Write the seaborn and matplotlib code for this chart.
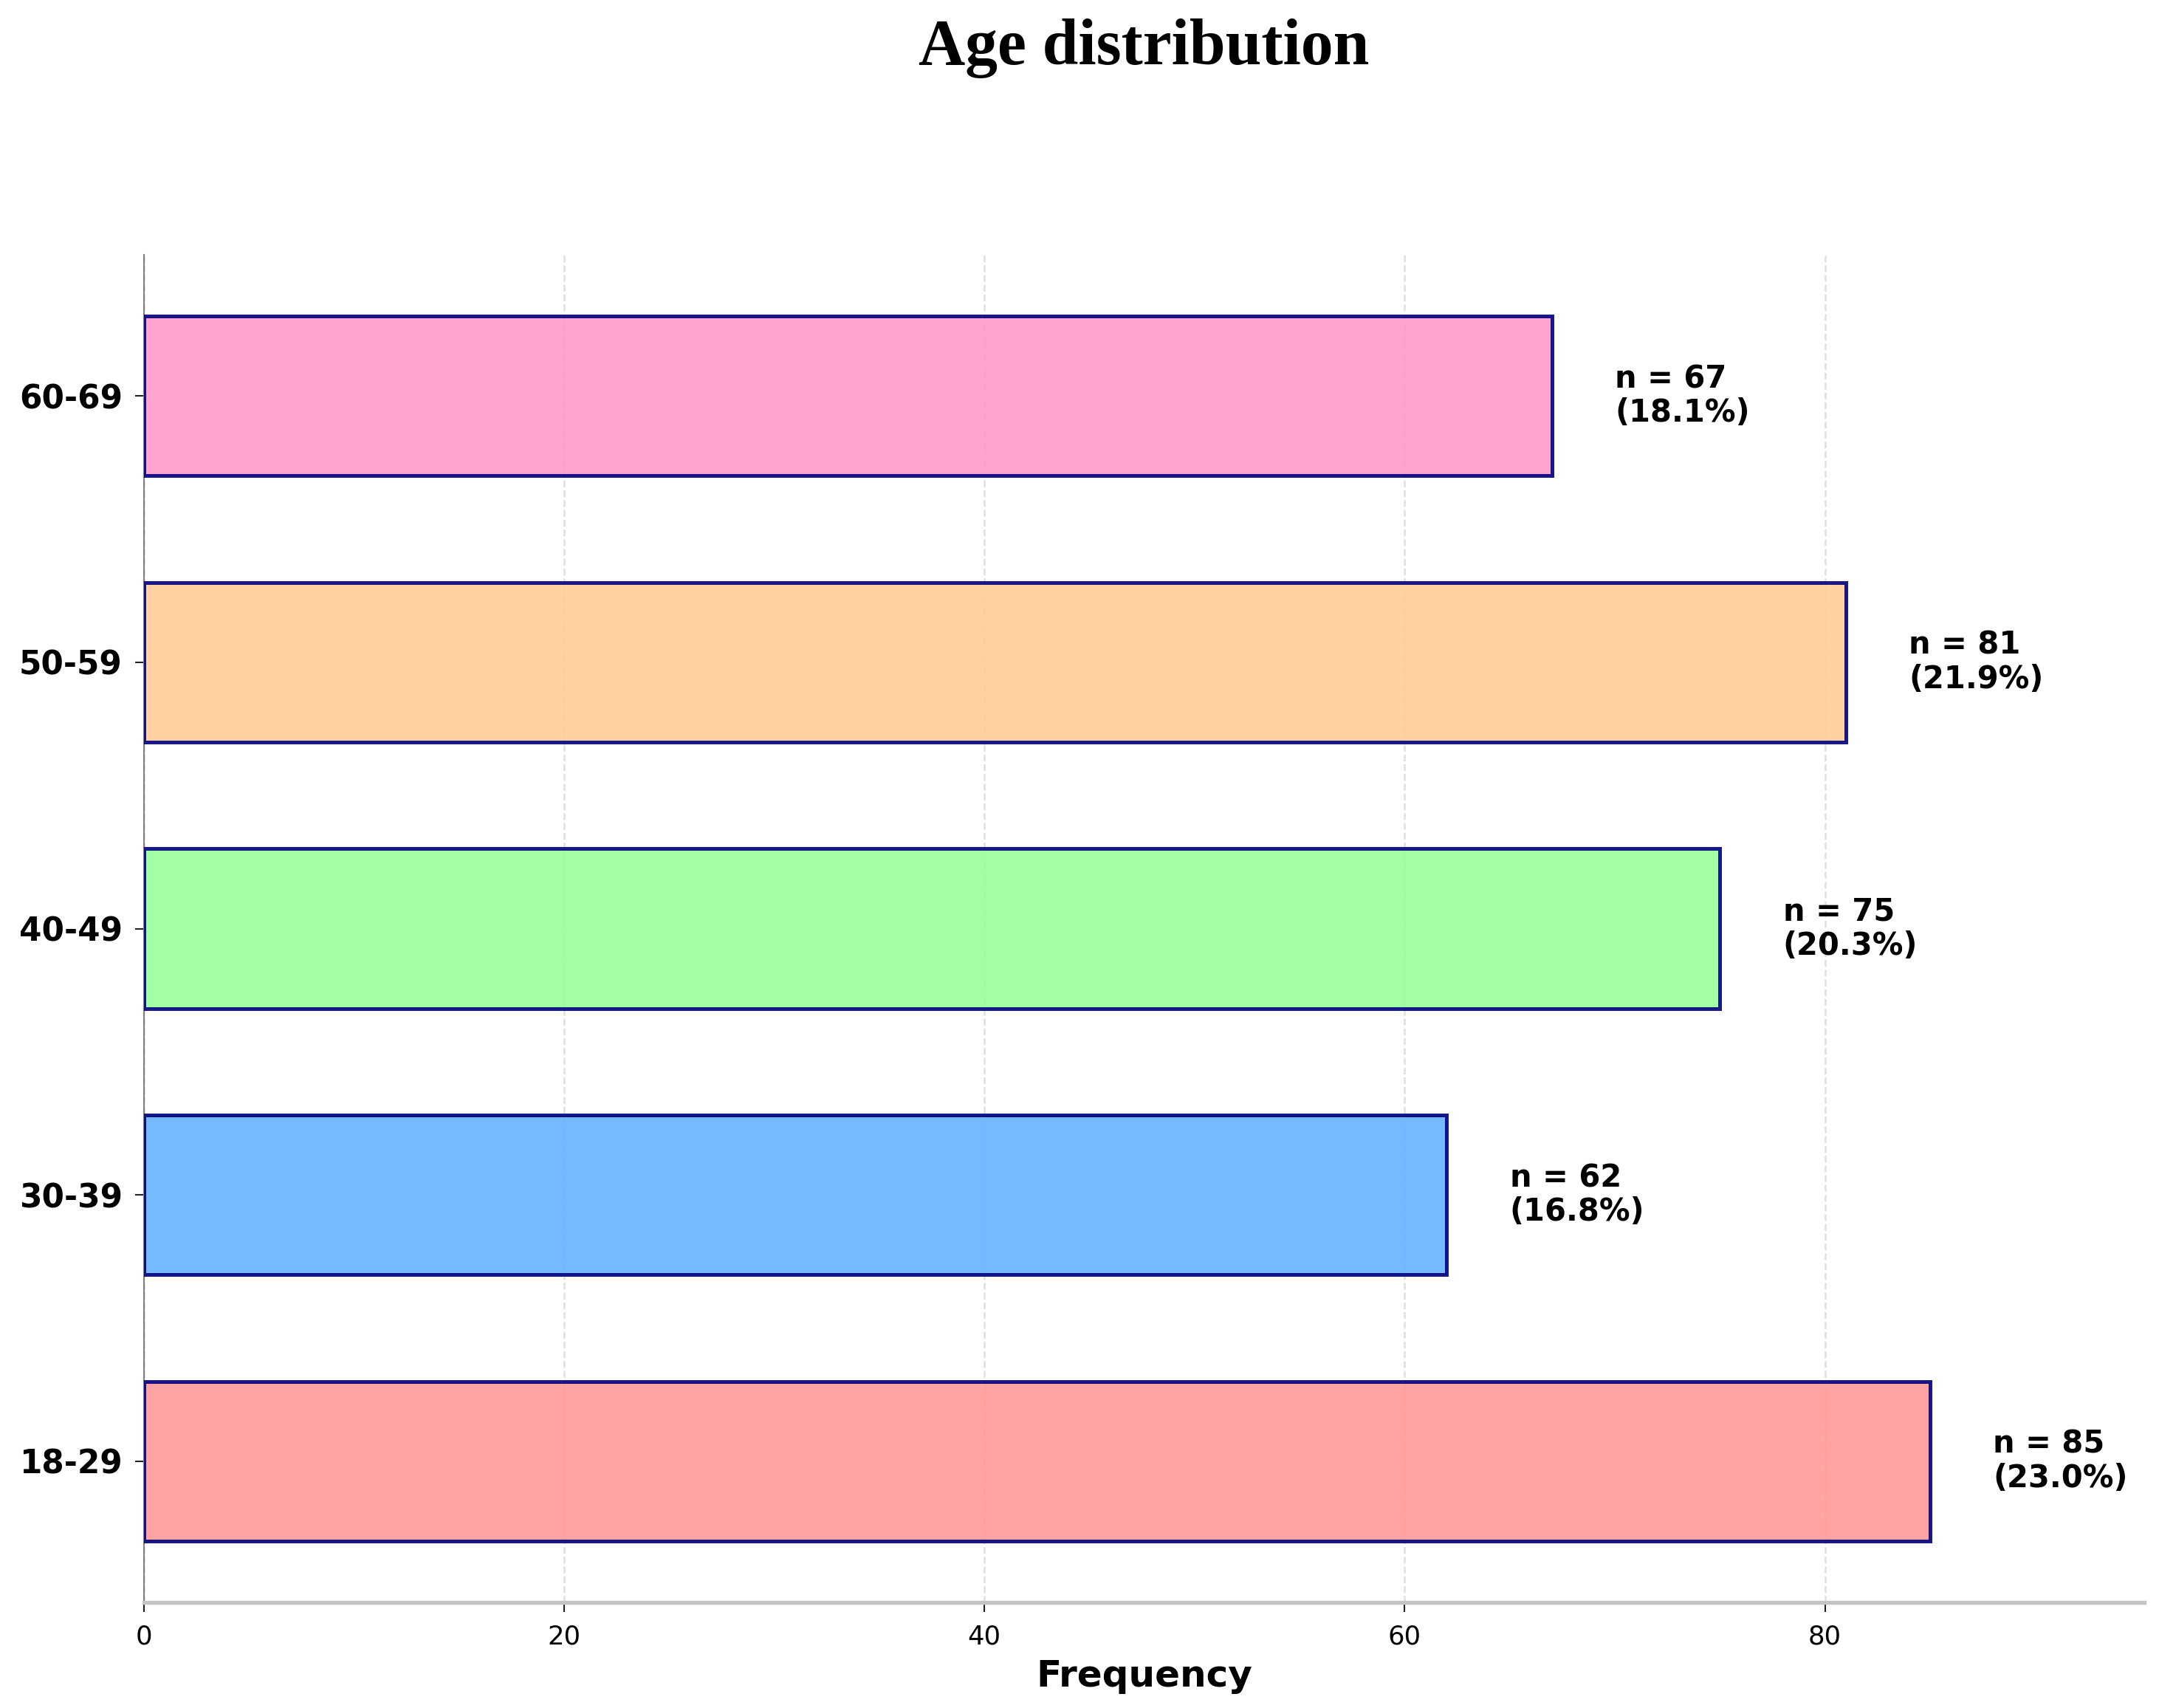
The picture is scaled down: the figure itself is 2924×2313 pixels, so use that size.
import matplotlib
matplotlib.use("Agg")
import matplotlib.pyplot as plt
import seaborn as sns
import pandas as pd

age_groups = ["18-29", "30-39", "40-49", "50-59", "60-69"]
counts = [85, 62, 75, 81, 67]
bar_colors = ["#FF9999", "#66B3FF", "#99FF99", "#FFCC99", "#FF99CC"]
title_text = "Age distribution"
x_label = "Frequency"

sns.set_style("white")
plt.rcParams["font.family"] = ["DejaVu Sans"]
plt.rcParams["text.color"] = "black"
plt.rcParams["axes.labelcolor"] = "black"
plt.rcParams["xtick.color"] = "black"
plt.rcParams["ytick.color"] = "black"

df = pd.DataFrame({"age": age_groups, "count": counts})
order = age_groups[::-1]
palette = dict(zip(age_groups, bar_colors))
total = sum(counts)

dpi = 300
fig = plt.figure(figsize=(2924 / dpi, 2313 / dpi), dpi=dpi)
ax = fig.add_axes([0.0667, 0.0618, 0.9265, 0.789])

sns.barplot(data=df, x="count", y="age", hue="age", order=order, hue_order=order,
            palette=palette, saturation=1, legend=False, width=0.6, alpha=0.9,
            edgecolor="navy", linewidth=1.2, ax=ax, zorder=3)

for _, row in df.iterrows():
    pct = row["count"] / total * 100
    ax.text(row["count"] + 3, order.index(row["age"]),
            f"n = {row['count']}\n({pct:.1f}%)",
            ha="left", va="center", fontsize=10, fontweight="bold",
            color="black", linespacing=1.12, zorder=4)

ax.set_xlim(0, max(counts) * 1.12)
ax.set_ylim(len(order) - 1 + 0.53, -0.53)

ax.set_title(title_text, fontsize=21, fontweight="bold", color="black",
             family=["Liberation Serif", "DejaVu Serif"], pad=62)
ax.set_xlabel(x_label, fontsize=12, fontweight="bold", labelpad=3, color="black")
ax.set_ylabel("")

ax.xaxis.grid(True, linestyle="--", color="gray", alpha=0.25, linewidth=0.6, zorder=0)
ax.yaxis.grid(False)
ax.set_axisbelow(True)

for s in ["top", "right"]:
    ax.spines[s].set_visible(False)
ax.spines["left"].set_color("#808080")
ax.spines["left"].set_linewidth(0.5)
ax.spines["bottom"].set_color("#c4c4c4")
ax.spines["bottom"].set_linewidth(1.3)

ax.tick_params(axis="x", which="major", bottom=True, length=3, width=0.5,
               color="#222222", labelcolor="black", labelsize=8.5, pad=4)
ax.tick_params(axis="y", which="major", left=True, length=3, width=0.5,
               color="#222222", labelcolor="black", labelsize=10.5, pad=4)
for lbl in ax.get_yticklabels():
    lbl.set_fontweight("bold")

fig.savefig("out.png", dpi=dpi)
